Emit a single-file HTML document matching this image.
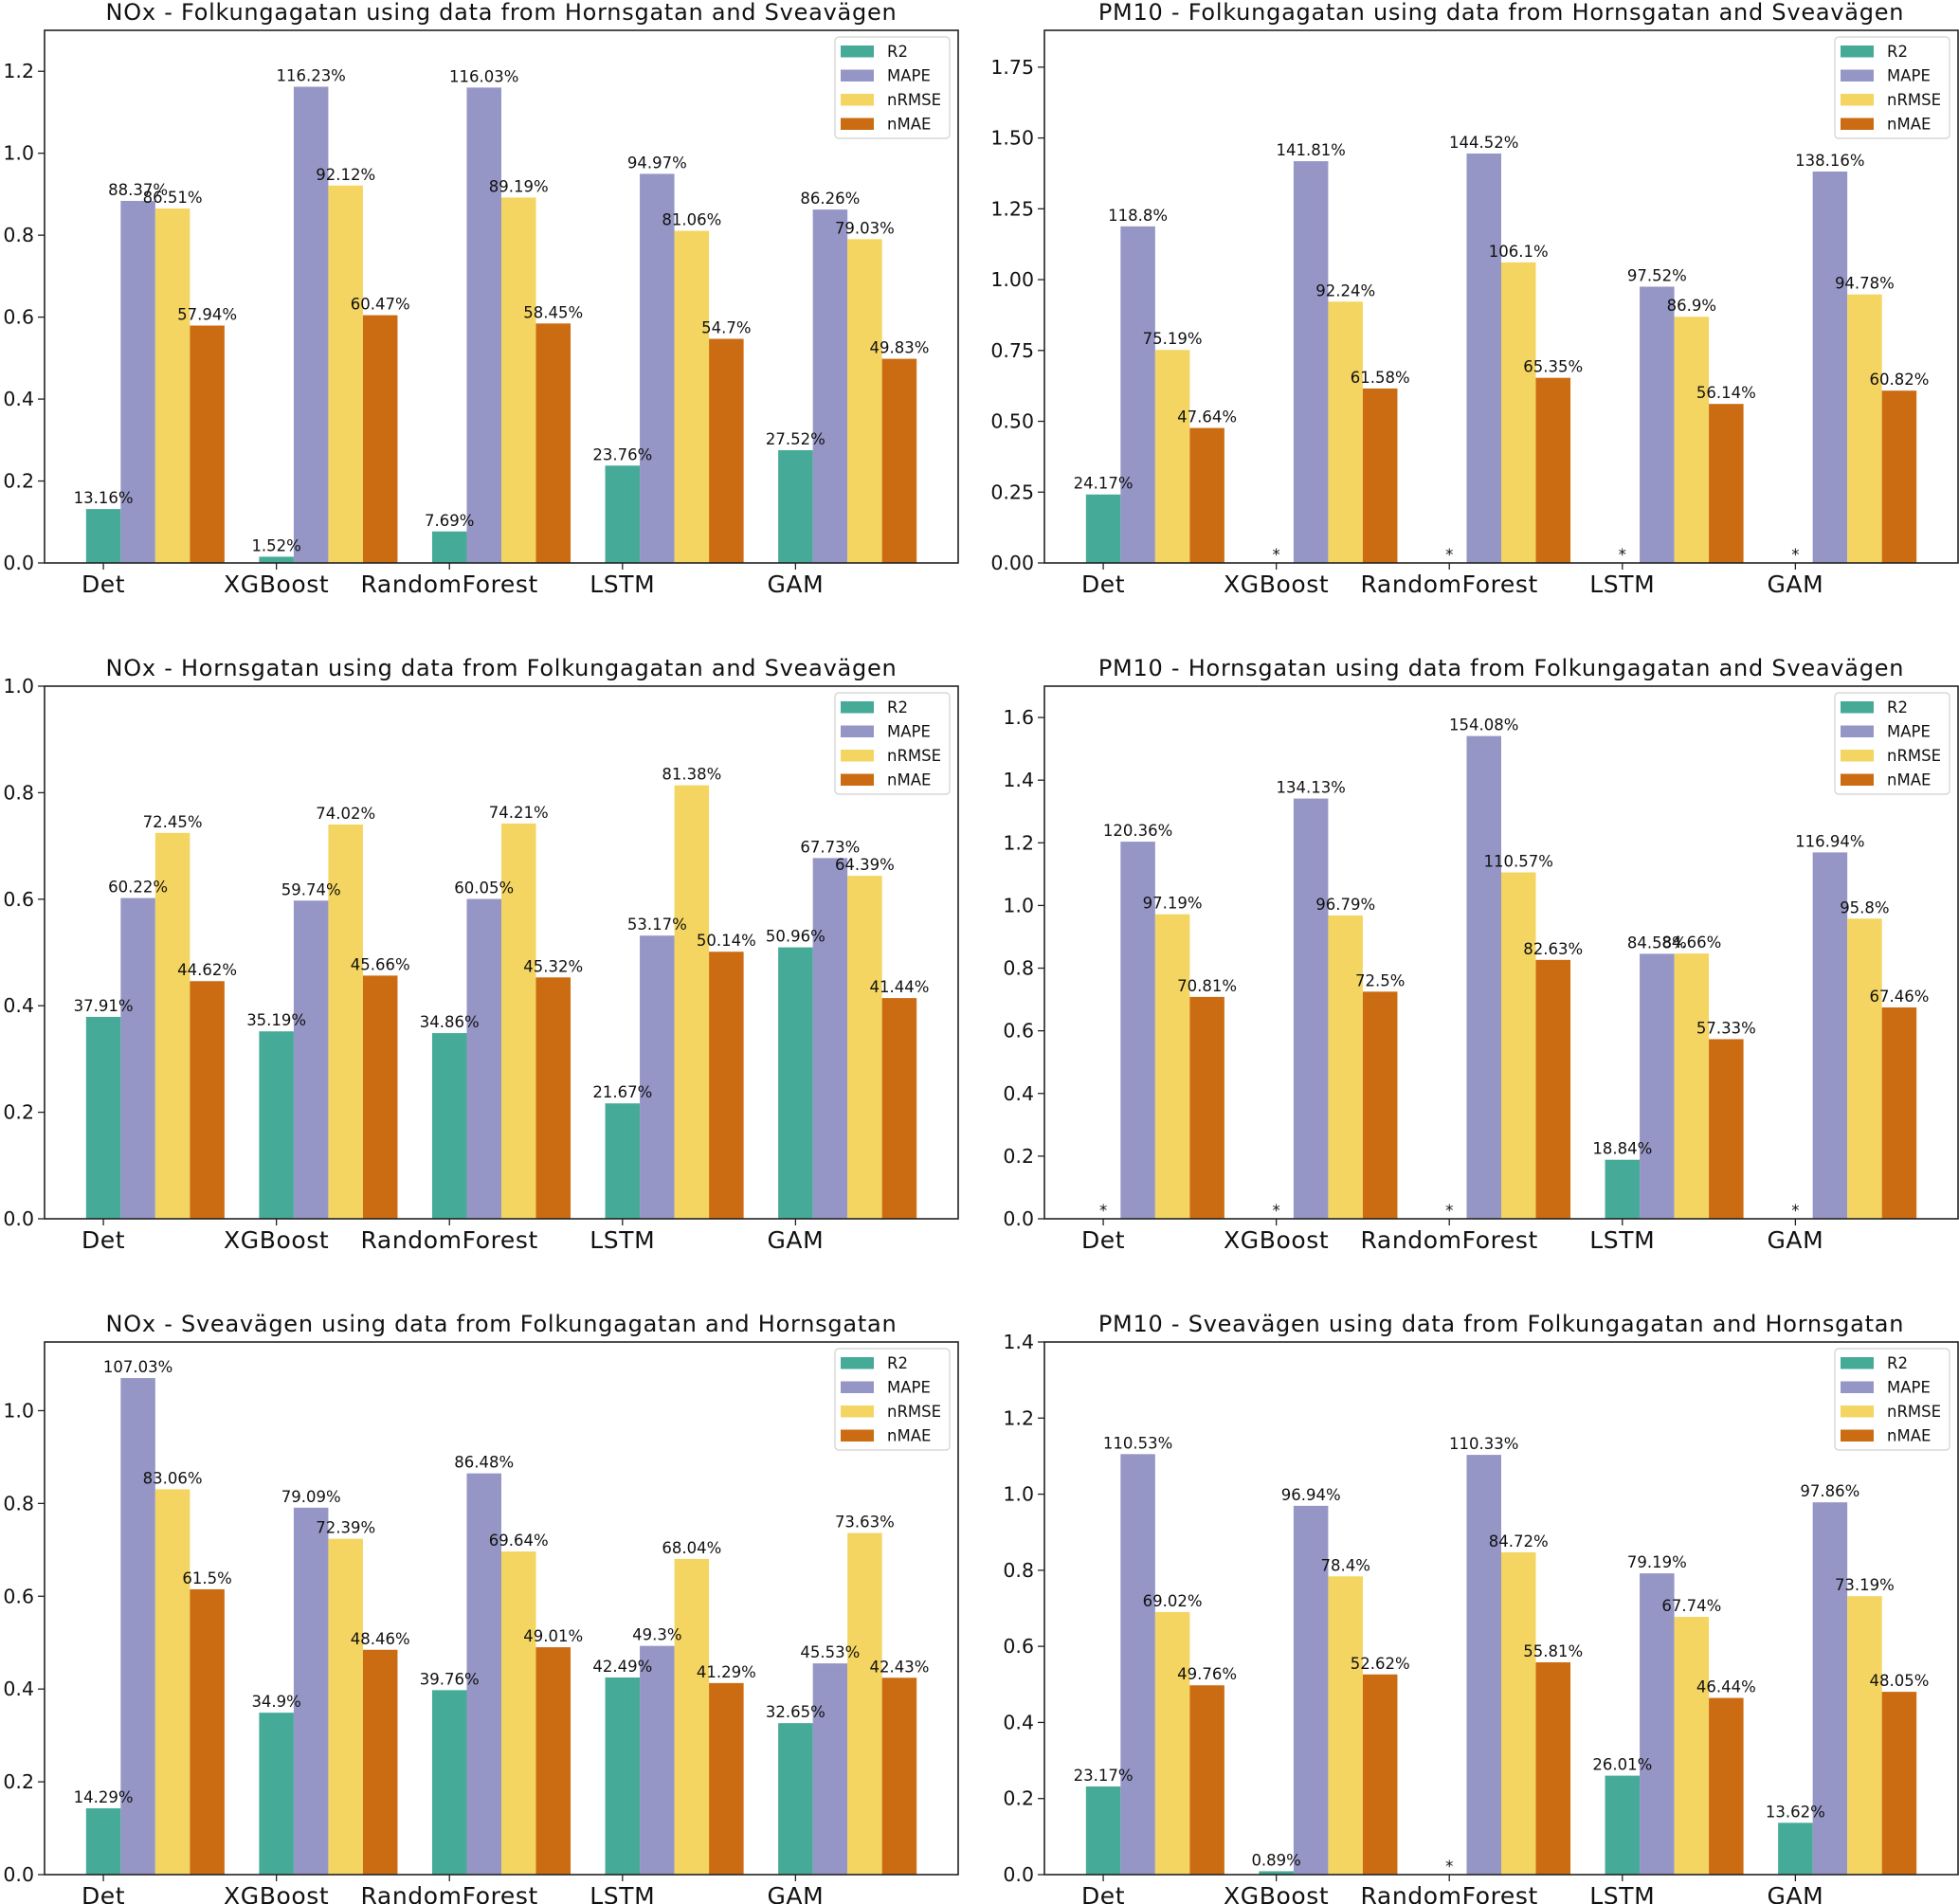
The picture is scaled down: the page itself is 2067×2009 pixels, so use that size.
<!DOCTYPE html>
<html><head><meta charset="utf-8"><style>
html,body{margin:0;padding:0;background:#fff;}
svg{display:block;font-family:"DejaVu Sans","Liberation Sans",sans-serif;}
</style></head><body>
<svg id="fig" width="2067" height="2009" viewBox="0 0 2067 2009" xmlns="http://www.w3.org/2000/svg"></svg>
<script>
const categories = ["Det","XGBoost","RandomForest","LSTM","GAM"];
const seriesNames = ["R2","MAPE","nRMSE","nMAE"];
const colors = ["#45ab98","#9696c6","#f4d562","#cc6c12"];
const titles = [
 "NOx - Folkungagatan using data from Hornsgatan and Sveavägen",
 "PM10 - Folkungagatan using data from Hornsgatan and Sveavägen",
 "NOx - Hornsgatan using data from Folkungagatan and Sveavägen",
 "PM10 - Hornsgatan using data from Folkungagatan and Sveavägen",
 "NOx - Sveavägen using data from Folkungagatan and Hornsgatan",
 "PM10 - Sveavägen using data from Folkungagatan and Hornsgatan"];
// values in percent; null = not available (shown as *)
const r2 = [
 [13.16,1.52,7.69,23.76,27.52],
 [24.17,null,null,null,null],
 [37.91,35.19,34.86,21.67,50.96],
 [null,null,null,18.84,null],
 [14.29,34.9,39.76,42.49,32.65],
 [23.17,0.89,null,26.01,13.62]];
const mape = [
 [88.37,116.23,116.03,94.97,86.26],
 [118.8,141.81,144.52,97.52,138.16],
 [60.22,59.74,60.05,53.17,67.73],
 [120.36,134.13,154.08,84.58,116.94],
 [107.03,79.09,86.48,49.3,45.53],
 [110.53,96.94,110.33,79.19,97.86]];
const nrmse = [
 [86.51,92.12,89.19,81.06,79.03],
 [75.19,92.24,106.1,86.9,94.78],
 [72.45,74.02,74.21,81.38,64.39],
 [97.19,96.79,110.57,84.66,95.8],
 [83.06,72.39,69.64,68.04,73.63],
 [69.02,78.4,84.72,67.74,73.19]];
const nmae = [
 [57.94,60.47,58.45,54.7,49.83],
 [47.64,61.58,65.35,56.14,60.82],
 [44.62,45.66,45.32,50.14,41.44],
 [70.81,72.5,82.63,57.33,67.46],
 [61.5,48.46,49.01,41.29,42.43],
 [49.76,52.62,55.81,46.44,48.05]];
const yMax = [1.30,1.88,1.0,1.70,1.148,1.4];
const tickStep = [0.2,0.25,0.2,0.2,0.2,0.2];
const tickTop = [1.2,1.75,1.0,1.6,1.0,1.4];
const tickDec = [1,2,1,1,1,1];

const NS="http://www.w3.org/2000/svg";
const svg=document.getElementById('fig');
function mk(tag,attrs,parent){const e=document.createElementNS(NS,tag);for(const k in attrs)e.setAttribute(k,attrs[k]);(parent||svg).appendChild(e);return e;}

const AX_L=47, AX_T=32, AX_W=964, AX_H=562;
const X_MIN=-0.34, X_MAX=4.94, BW=0.2;

for(let c=0;c<6;c++){
  const ox=(c%2)*1055, oy=Math.floor(c/2)*692;
  const g=mk('g',{transform:`translate(${ox},${oy})`});
  
  
  const xs=v=>AX_L+(v-X_MIN)/(X_MAX-X_MIN)*AX_W;
  const ys=v=>AX_T+AX_H-(v/yMax[c])*AX_H;
  const t=mk('text',{x:AX_L+AX_W/2,y:21,'text-anchor':'middle','font-size':'24','letter-spacing':'0.75',fill:'#111'},g);
  t.textContent=titles[c];
  
  
  const nT=Math.round(tickTop[c]/tickStep[c]);
  for(let i=0;i<=nT;i++){
    const v=i*tickStep[c], y=ys(v);
    mk('line',{x1:AX_L-7,x2:AX_L,y1:y,y2:y,stroke:'#222','stroke-width':1.3},g);
    const tl=mk('text',{x:AX_L-11,y:y+7,'text-anchor':'end','font-size':'20.5',fill:'#111'},g);
    tl.textContent=v.toFixed(tickDec[c]);
    
    
  }
  const series=[r2[c],mape[c],nrmse[c],nmae[c]];
  const labelLayer=[];
  for(let s=0;s<4;s++){
    for(let k=0;k<5;k++){
      const v=series[s][k];
      const xc=k+s*BW;
      if(v===null){
        labelLayer.push({x:xs(xc),y:ys(0)-3,txt:'*',name:'missing-value-marker'});
        continue;
      }
      const val=v/100;
      const x0=xs(xc-BW/2), x1=xs(xc+BW/2);
      const r=mk('rect',{x:x0,y:ys(val),width:x1-x0,height:ys(0)-ys(val),fill:colors[s]},g);
      
      
      labelLayer.push({x:xs(xc),y:ys(val)-6,txt:v+'%',name:'value-label'});
    }
  }
  for(const L of labelLayer){
    const lt=mk('text',{x:L.x,y:L.y,'text-anchor':'middle','font-size':'16.5',fill:'#111'},g);
    lt.textContent=L.txt;
    
    
  }
  for(let k=0;k<5;k++){
    const x=xs(k);
    mk('line',{x1:x,x2:x,y1:AX_T+AX_H,y2:AX_T+AX_H+7,stroke:'#222','stroke-width':1.3},g);
    const xl=mk('text',{x:x,y:AX_T+AX_H+31,'text-anchor':'middle','font-size':'25','letter-spacing':'0.6',fill:'#111'},g);
    xl.textContent=categories[k];
    
    
  }
  const fr=mk('rect',{x:AX_L,y:AX_T,width:AX_W,height:AX_H,fill:'none',stroke:'#222','stroke-width':1.6},g);
  
  
  const lg=mk('g',{},g);
  
  
  mk('rect',{x:881,y:39,width:121,height:107,rx:4,fill:'#fff','fill-opacity':0.85,stroke:'#d0d0d0','stroke-width':1.2},lg);
  for(let s=0;s<4;s++){
    const y=54+s*25.5;
    const p=mk('rect',{x:887,y:y-6,width:35,height:12.5,fill:colors[s]},lg);
    
    
    const lt=mk('text',{x:936,y:y+6,'font-size':'16.5',fill:'#111'},lg);
    lt.textContent=seriesNames[s];
    
    
  }
}
</script>
</body></html>
